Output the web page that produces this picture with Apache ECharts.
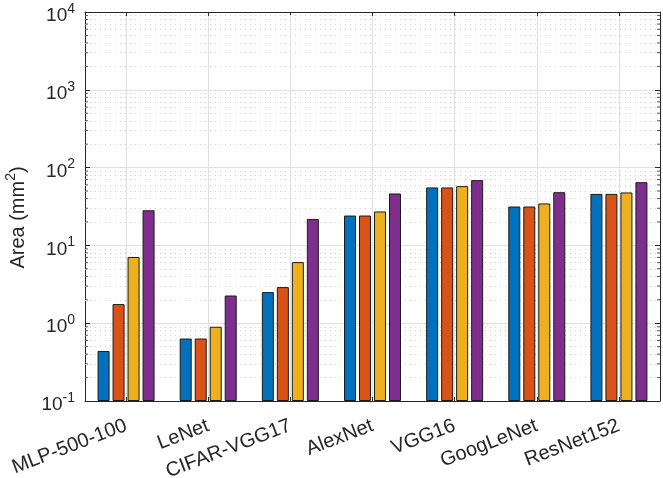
<!DOCTYPE html>
<html>
<head>
<meta charset="utf-8">
<title>Area</title>
<script src="https://cdn.jsdelivr.net/npm/echarts@6/dist/echarts.min.js"></script>
<style>
  html, body { margin: 0; padding: 0; background: #fff; }
  #areaChart { width: 663px; height: 478px; }
</style>
</head>
<body>
<div id="areaChart"></div>
<script>
// data
var networks = ['MLP-500-100', 'LeNet', 'CIFAR-VGG17', 'AlexNet', 'VGG16', 'GoogLeNet', 'ResNet152'];
var areaA = [0.44, 0.635, 2.51, 24.2, 55.6, 31.6, 45.9];
var areaB = [1.76, 0.635, 2.91, 24.2, 55.6, 31.6, 45.9];
var areaC = [7.1, 0.90, 6.1, 27.3, 57.8, 34.6, 47.9];
var areaD = [28.3, 2.27, 21.9, 46.5, 69, 48.3, 65];
var yMin = 0.1;
var yMax = 10000;

var barColors = ['#0072BD', '#D95319', '#EDB120', '#7E2F8E'];
var axisColor = '#262626';
var fontName = 'Liberation Sans';

// minor log grid values 2..9 x 10^k
var minorVals = [];
for (var k = -1; k < 4; k++) {
  for (var m = 2; m <= 9; m++) {
    minorVals.push(+(m * Math.pow(10, k)).toPrecision(3));
  }
}

// helper axis on top: 2 slots per category so grid lines land on category centres
var halfSlots = [];
for (var i = 0; i <= networks.length * 2; i++) halfSlots.push(String(i));
var lastSlot = halfSlots.length - 1;
function onCentre(index) { return index % 2 === 1; }

// minor tick marks on the left / right box edges
var minorLeft = minorVals.map(function (v) { return [0, v]; });
var minorRight = minorVals.map(function (v) { return [lastSlot, v]; });

function powLabel(v) {
  var e = Math.round(Math.log(v) / Math.LN10);
  return '{b|10}{s|' + e + '}';
}

var areaChart = echarts.init(document.getElementById('areaChart'));

function barSeries(values, idx) {
  return {
    type: 'bar',
    data: values,
    barWidth: 12,
    barGap: '25%',
    z: 3,
    itemStyle: {
      color: barColors[idx],
      borderColor: '#1a1a1a',
      borderWidth: 1
    }
  };
}

function minorTickSeries(points, dx) {
  return {
    type: 'scatter',
    xAxisIndex: 1,
    data: points,
    silent: true,
    symbol: 'rect',
    symbolSize: [3, 1],
    symbolOffset: [dx, 0],
    itemStyle: { color: axisColor },
    z: 4
  };
}

var option = {
  animation: false,
  backgroundColor: '#fff',
  textStyle: { fontFamily: fontName, color: axisColor },
  grid: { left: 85, right: 3, top: 12, bottom: 77, containLabel: false, outerBoundsMode: 'none' },
  xAxis: [
    {
      type: 'category',
      data: networks,
      position: 'bottom',
      axisLine: { show: true, lineStyle: { color: axisColor, width: 1 } },
      axisTick: { show: true, inside: true, alignWithLabel: true, length: 4, lineStyle: { color: axisColor } },
      axisLabel: {
        interval: 0,
        rotate: 21,
        margin: 24,
        fontSize: 20,
        color: axisColor,
        fontFamily: fontName
      },
      splitLine: { show: false }
    },
    {
      type: 'category',
      data: halfSlots,
      position: 'top',
      boundaryGap: false,
      axisLine: { show: true, lineStyle: { color: axisColor, width: 1 } },
      axisTick: { show: true, inside: true, length: 4, interval: onCentre, lineStyle: { color: axisColor } },
      axisLabel: { show: false },
      splitLine: { show: true, interval: onCentre, lineStyle: { color: '#e0e0e0', width: 1 } }
    }
  ],
  yAxis: [
    {
      type: 'log',
      logBase: 10,
      min: yMin,
      max: yMax,
      startValue: yMin,
      position: 'left',
      name: '{a|Area (mm}{s|2}{a|)}',
      nameLocation: 'middle',
      nameRotate: 90,
      nameGap: 53,
      nameTextStyle: {
        color: axisColor,
        padding: [0, 22, 0, 0],
        rich: {
          a: { fontSize: 20, fontFamily: fontName, color: axisColor },
          s: { fontSize: 14, fontFamily: fontName, color: axisColor, padding: [0, 0, 14, 0] }
        }
      },
      axisLine: { show: true, lineStyle: { color: axisColor, width: 1 } },
      axisTick: { show: true, inside: true, length: 5, lineStyle: { color: axisColor } },
      axisLabel: {
        margin: 10,
        formatter: powLabel,
        rich: {
          b: { fontSize: 19, fontFamily: fontName, color: axisColor, padding: [8, 0, 0, 0] },
          s: { fontSize: 14, fontFamily: fontName, color: axisColor, padding: [0, 0, 6, 0] }
        }
      },
      splitLine: { show: true, lineStyle: { color: '#e0e0e0', width: 1 } }
    },
    {
      type: 'log',
      logBase: 10,
      min: yMin,
      max: yMax,
      position: 'right',
      axisLine: { show: true, lineStyle: { color: axisColor, width: 1 } },
      axisTick: { show: true, inside: true, length: 5, lineStyle: { color: axisColor } },
      axisLabel: { show: false },
      splitLine: { show: false }
    }
  ],
  series: [
    barSeries(areaA, 0),
    barSeries(areaB, 1),
    barSeries(areaC, 2),
    barSeries(areaD, 3),
    minorTickSeries(minorLeft, 1.5),
    minorTickSeries(minorRight, -1.5),
    { // dotted minor grid, drawn behind the bars
      type: 'line',
      data: [],
      silent: true,
      markLine: {
        z: 1,
        silent: true,
        symbol: ['none', 'none'],
        label: { show: false },
        lineStyle: { color: '#d2d2d2', type: [1, 4], width: 1 },
        data: minorVals.map(function (v) { return { yAxis: v }; })
      }
    }
  ]
};

areaChart.setOption(option);
</script>
</body>
</html>
